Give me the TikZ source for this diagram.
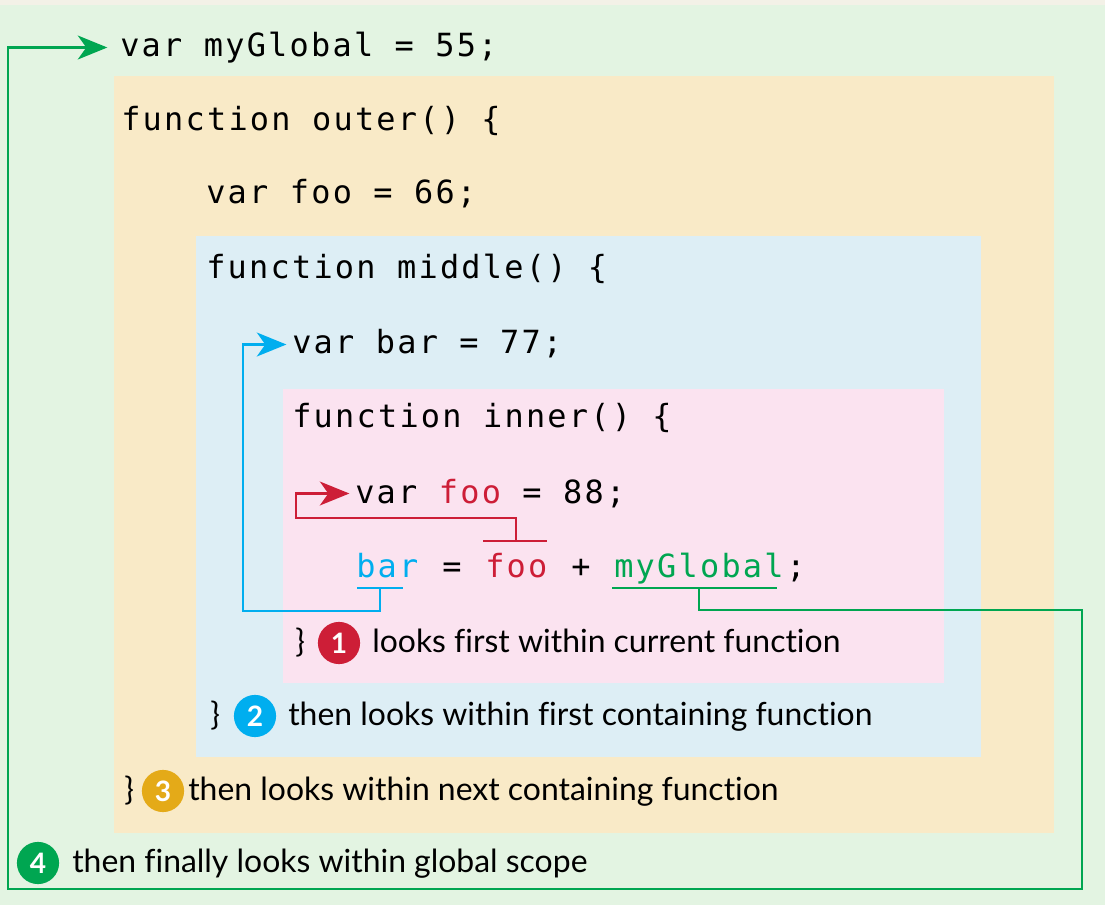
\documentclass[tikz,border=0pt]{standalone}
\usepackage{fontspec}
\setmainfont{Lato}[Ligatures=NoCommon]
\newfontfamily\codefont[LetterSpace=7]{DejaVu Sans Mono}
\usetikzlibrary{arrows.meta,calc}

\definecolor{paper}{RGB}{243,241,231}
\definecolor{globalbg}{RGB}{227,244,226}
\definecolor{outerbg}{RGB}{249,234,199}
\definecolor{middlebg}{RGB}{221,238,245}
\definecolor{innerbg}{RGB}{251,227,240}
\definecolor{redc}{RGB}{205,30,55}
\definecolor{bluec}{RGB}{0,174,239}
\definecolor{greenc}{RGB}{0,166,81}
\definecolor{goldc}{RGB}{228,170,24}

\begin{document}
\begin{tikzpicture}[
    x=0.025cm, y=-0.025cm,
    code/.style={font=\codefont\fontsize{22.7}{27}\selectfont, inner sep=0pt,
                 anchor=base west, text height=17pt, text depth=3.5pt},
    note/.style={font=\fontsize{22.7}{27}\selectfont, inner sep=0pt, anchor=base west},
    badge/.style={circle, fill=#1, minimum size=30pt, inner sep=0pt, text=white,
                  font=\bfseries\fontsize{20}{23}\selectfont},
    link/.style={draw=#1, line width=1.7pt},
    lookup/.style={link=#1, -{Stealth[length=21pt, width=17pt, inset=6pt]}}
]
\useasboundingbox (0,0) rectangle (1105,905);

% Nested scopes
\fill[paper]    (0,0)     rectangle (1105,905);
\fill[globalbg] (0,5)     rectangle (1105,905);
\fill[outerbg]  (114,76)  rectangle (1054,833);
\fill[middlebg] (196,236) rectangle (981,757);
\fill[innerbg]  (283,389) rectangle (944,683);

% Source lines
\node[code] (vg)  at (120,57)  {var myGlobal = 55;};
\node[code] (fo)  at (121,131) {function outer() \{};
\node[code] (vfo) at (206,204) {var foo = 66;};
\node[code] (fm)  at (206,279) {function middle() \{};
\node[code] (vb)  at (292,354) {var bar = 77;};
\node[code] (fi)  at (292,428) {function inner() \{};
\node[code] (vf)  at (355,503) {var \textcolor{redc}{foo} = 88;};

% bar = foo + myGlobal;
\node[code, text=bluec]  (bar) at (356,577) {bar};
\node[code]              (eq)  at (442,577) {=};
\node[code, text=redc]   (foo) at (485,577) {foo};
\node[code]              (pl)  at (571,577) {+};
\node[code, text=greenc] (mg)  at (614,577) {myGlobal};
\node[code]              (sc)  at (786,577) {;};

% Closing braces with the lookup order
\node[note] (rb1) at (295,652) {\}};
\node[badge=redc] (b1) at (339,643) {1};
\node[note] (n1) at (372,652) {looks first within current function};

\node[note] (rb2) at (210,725) {\}};
\node[badge=bluec] (b2) at (255,716) {2};
\node[note] (n2) at (288,725) {then looks within first containing function};

\node[note] (rb3) at (124,800) {\}};
\node[badge=goldc] (b3) at (163,791) {3};
\node[note] (n3) at (188,800) {then looks within next containing function};

\node[badge=greenc] (b4) at (38,863) {4};
\node[note] (n4) at (72,872) {then finally looks within global scope};

% Step 1: foo found in inner()
\coordinate (fooL)   at ($(foo.base west)+(-2,-36)$);
\coordinate (fooR)   at ($(foo.base west)+(62,-36)$);
\coordinate (foomid) at ($(foo.base west)+(31,-36)$);
\coordinate (rcorner) at (296,518);
\draw[link=redc] (fooL) -- (fooR);
\draw[lookup=redc, shorten >=4pt] (foomid) |- (rcorner) |- (vf.west);

% Step 2: bar found in middle()
\coordinate (barL)   at ($(bar.base west)+(1,11)$);
\coordinate (barR)   at ($(bar.base west)+(47,11)$);
\coordinate (barmid) at ($(bar.base west)+(24,11)$);
\coordinate (bcorner) at (243,611);
\draw[link=bluec] (barL) -- (barR);
\draw[lookup=bluec, shorten >=4pt] (barmid) |- (bcorner) |- (vb.west);

% Step 4: myGlobal found in global scope
\coordinate (mgL)    at ($(mg.base west)+(-2,11)$);
\coordinate (mgR)    at ($(mg.base west)+(163,11)$);
\coordinate (mgmid)  at ($(mg.base west)+(85,11)$);
\coordinate (gstub)  at ($(mgmid)+(0,22)$);
\coordinate (gright) at (1082,889);
\coordinate (gleft)  at (8,889);
\draw[link=greenc] (mgL) -- (mgR);
\draw[lookup=greenc, shorten >=9pt] (mgmid) -- (gstub) -| (gright) -- (gleft) |- (vg.west);
\end{tikzpicture}
\end{document}
